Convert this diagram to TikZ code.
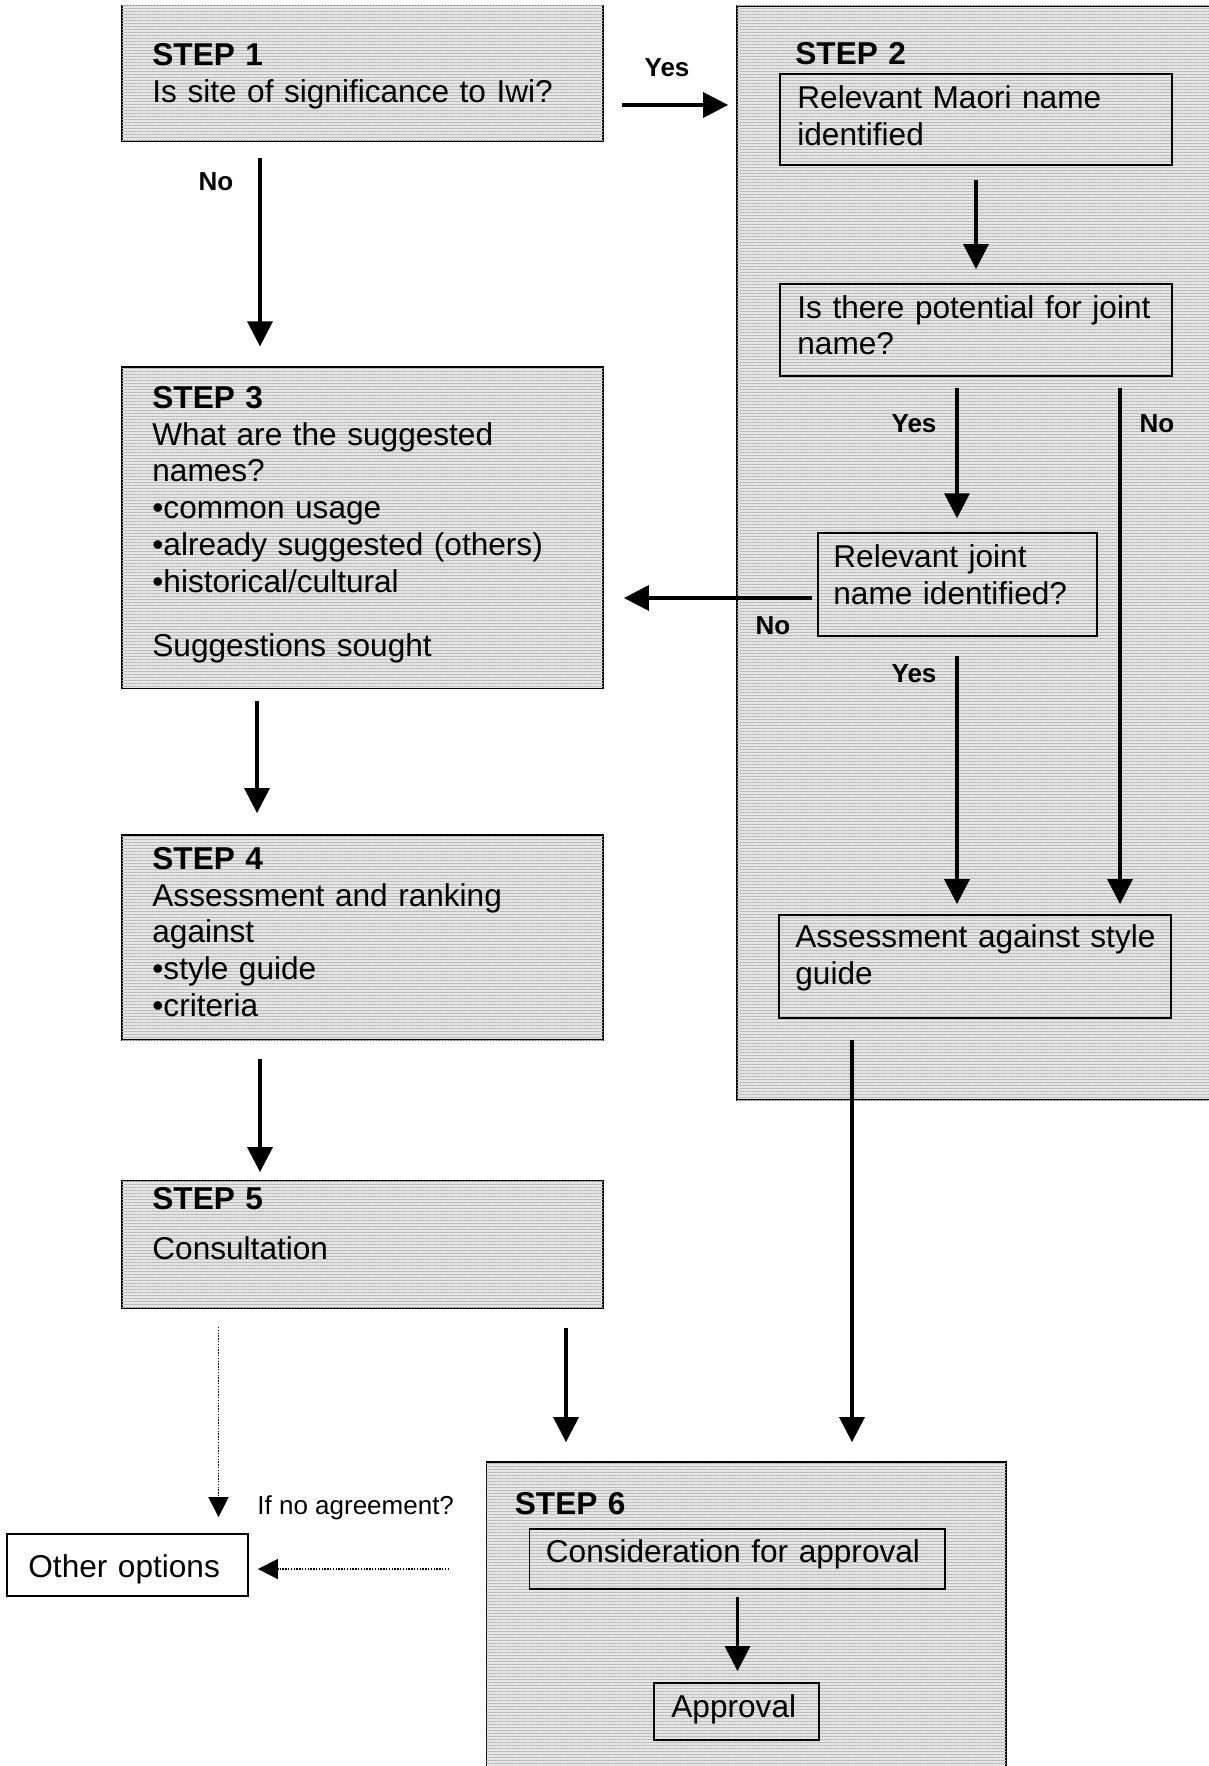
\documentclass[tikz,border=0pt]{standalone}
\usepackage{fontspec}
\setmainfont{Liberation Sans}
\usetikzlibrary{arrows.meta,patterns.meta,fit}
\begin{document}
\begin{tikzpicture}[x=0.5pt,y=-0.5pt,
  shadebox/.style={draw=black, line width=0.9pt, inner sep=0pt, fill=black!10,
    postaction={pattern color=black!28, pattern={Lines[angle=0,distance=1.5pt,line width=0.45pt]}}},
  plainbox/.style={draw=black, line width=0.9pt, inner sep=0pt},
  whitebox/.style={draw=black, line width=0.9pt, inner sep=0pt, fill=white},
  txt/.style={inner sep=0pt, align=left, text width=235pt, font=\fontsize{15.8}{18.35}\selectfont},
  lbl/.style={inner sep=0pt, font=\fontsize{13}{15}\selectfont\bfseries},
  arr/.style={line width=1.7pt, -{Triangle[length=12.5pt,width=12.5pt]}},
  dotarr/.style={line width=0.8pt, dash pattern=on 0.7pt off 0.7pt, -{Triangle[length=10pt,width=10pt]}}
]
\useasboundingbox (0,0) rectangle (1209,1766);

% big boxes
\node[shadebox, fit={(121.7,5.6) (603,140.8)}] (s1) {};
\node[shadebox, fit={(737,6) (1216,1100)}] (s2) {};
\node[shadebox, fit={(121.7,367.3) (603,688.5)}] (s3) {};
\node[shadebox, fit={(121.7,835) (603,1040)}] (s4) {};
\node[shadebox, fit={(121.7,1181) (603,1308)}] (s5) {};
\node[shadebox, fit={(486.5,1462) (1006,1775)}] (s6) {};

% inner boxes
\node[plainbox, fit={(780,74) (1172,165)}] (m1) {};
\node[plainbox, fit={(780,284) (1172,376)}] (m2) {};
\node[plainbox, fit={(818,533) (1097,636)}] (jn) {};
\node[plainbox, fit={(779,915) (1171,1018)}] (as) {};
\node[plainbox, fit={(529.5,1529) (945,1589)}] (c6) {};
\node[plainbox, fit={(654,1683) (819,1740)}] (ap) {};
\node[whitebox, fit={(7,1534) (248,1596)}] (oo) {};

% texts
\node[txt, anchor=base west] (s1t) at (152,65.5) {\textbf{STEP 1}\\Is site of significance to Iwi?};
\node[txt, anchor=base west] (s2t) at (795,64.5) {\textbf{STEP 2}};
\node[txt, anchor=base west] (m1t) at (797,108.5) {Relevant Maori name\\identified};
\node[txt, anchor=base west] (m2t) at (797,318) {Is there potential for joint\\name?};
\node[txt, anchor=base west] (jnt) at (833,567.5) {Relevant joint\\name identified?};
\node[txt, anchor=base west] (ast) at (795,947.5) {Assessment against style\\guide};
\node[txt, anchor=base west] (s3t) at (152,408.5) {\textbf{STEP 3}\\What are the suggested\\names?\\•common usage\\•already suggested (others)\\•historical/cultural\\[13.65pt]Suggestions sought};
\node[txt, anchor=base west] (s4t) at (152,869.5) {\textbf{STEP 4}\\Assessment and ranking\\against\\•style guide\\•criteria};
\node[txt, anchor=base west] (s5t) at (152,1209) {\textbf{STEP 5}\\[6.65pt]Consultation};
\node[txt, anchor=base west] (s6t) at (514.5,1514.5) {\textbf{STEP 6}};
\node[txt, anchor=base west] (c6t) at (545.5,1562) {Consideration for approval};
\node[txt, anchor=base west] (apt) at (671,1717) {Approval};
\node[txt, anchor=base west] (oot) at (28,1577) {Other options};
\node[inner sep=0pt, anchor=base west, font=\fontsize{13}{15}\selectfont] (noag) at (257,1514.5) {If no agreement?};

% labels
\node[lbl, anchor=base] (l1) at (667,76.5) {Yes};
\node[lbl, anchor=base] (l2) at (216,191) {No};
\node[lbl, anchor=base] (l3) at (914,432.5) {Yes};
\node[lbl, anchor=base] (l4) at (1157,432.5) {No};
\node[lbl, anchor=base] (l5) at (773,634) {No};
\node[lbl, anchor=base] (l6) at (914,682) {Yes};

% column / row helpers
\coordinate (r1) at (0,105);
\coordinate (c1) at (260,0);
\coordinate (c2) at (257,0);
\coordinate (c3) at (566,0);
\coordinate (c4) at (976,0);
\coordinate (c5) at (957,0);
\coordinate (c6x) at (1120,0);
\coordinate (r2) at (0,598);
\coordinate (c7) at (852,0);
\coordinate (c8) at (737.5,0);
\coordinate (c9) at (218.5,0);
\coordinate (r3) at (0,1569);
\coordinate (dstart) at (449,1569);

% connectors
\draw[arr, shorten <=9pt, shorten >=4pt] (s1.east |- r1) -- (s2.west |- r1);
\draw[arr, shorten <=7.9pt, shorten >=10pt] (s1.south -| c1) -- (s3.north -| c1);
\draw[arr, shorten <=5.75pt, shorten >=10.5pt] (s3.south -| c2) -- (s4.north -| c2);
\draw[arr, shorten <=9pt, shorten >=4pt] (s4.south -| c1) -- (s5.north -| c1);
\draw[arr, shorten <=9.5pt, shorten >=9.5pt] (s5.south -| c3) -- (s6.north -| c3);
\draw[arr, shorten <=7pt, shorten >=7pt] (m1.south -| c4) -- (m2.north -| c4);
\draw[arr, shorten <=5.3pt, shorten >=6.9pt] (m2.south -| c5) -- (jn.north -| c5);
\draw[arr, shorten <=5.3pt, shorten >=5pt] (m2.south -| c6x) -- (as.north -| c6x);
\draw[arr, shorten <=9.5pt, shorten >=5pt] (jn.south -| c5) -- (as.north -| c5);
\draw[arr, shorten <=2.5pt, shorten >=10pt] (jn.west |- r2) -- (s3.east |- r2);
\draw[arr, shorten <=10.5pt, shorten >=9.5pt] (as.south -| c7) -- (s6.north -| c7);
\draw[arr, shorten <=3.5pt, shorten >=5.5pt] (c6.south -| c8) -- (ap.north -| c8);
\draw[dotarr, shorten <=9pt, shorten >=8pt] (s5.south -| c9) -- (oo.north -| c9);
\draw[dotarr, shorten >=4.5pt] (dstart) -- (oo.east |- r3);
\end{tikzpicture}
\end{document}
